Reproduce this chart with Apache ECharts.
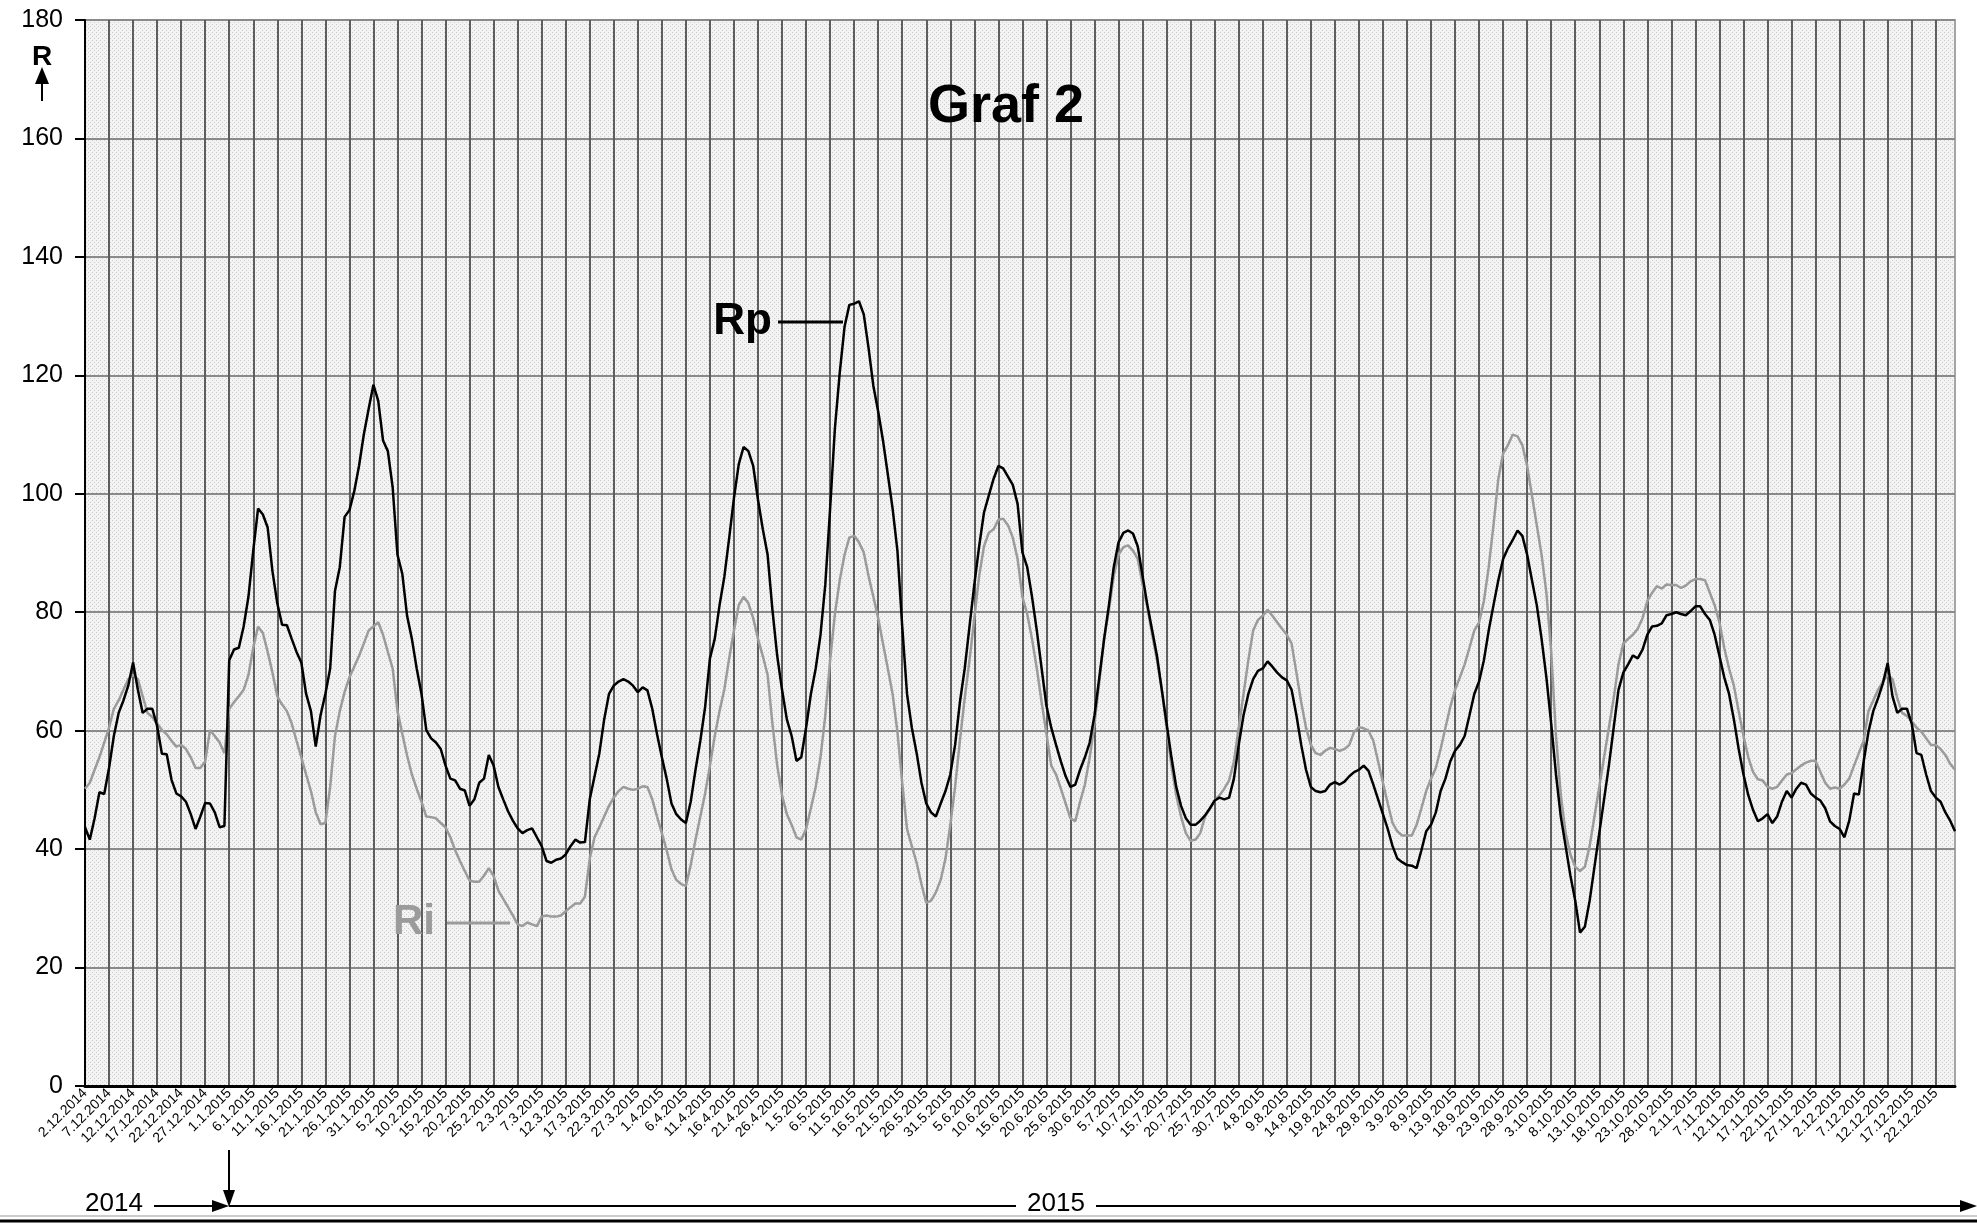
<!DOCTYPE html>
<html><head><meta charset="utf-8">
<script src="https://cdn.jsdelivr.net/npm/echarts/dist/echarts.min.js"></script>
<style>html,body{margin:0;padding:0;background:#fff}#c{width:1977px;height:1224px}</style>
</head><body><div id="c"></div>
<script>
// ---- data (daily values, 2.12.2014 - 26.12.2015) ----
const startDay = [2014, 12, 2];
const dayCount = 390;
const yTicks = [0, 20, 40, 60, 80, 100, 120, 140, 160, 180];

const rp2014 = [43.7,41.6,45.2,49.6,49.3,53.7,59.1,63.0,65.1,67.6,71.5,66.9,63.0,63.7,63.7,60.8,56.1,56.0,51.7,49.4,48.9,48.0,45.9,43.4,45.5,47.8,47.7,46.2,43.7,43.9];
const rp2015 = [
71.9,73.7,74.0,77.6,82.6,90.4,97.5,96.5,94.3,86.9,
81.5,77.9,77.8,75.5,73.3,71.5,66.2,63.3,57.3,62.6,
66.2,70.5,83.6,87.6,96.1,97.2,100.4,104.7,110.0,114.3,
118.4,115.7,109.0,107.2,101.1,89.7,86.5,79.4,75.5,70.5,
66.2,60.1,58.7,58.0,56.9,54.1,51.9,51.6,50.2,49.9,
47.3,48.4,51.2,51.9,55.9,54.1,50.5,48.4,46.4,44.8,
43.5,42.7,43.2,43.5,42.0,40.5,38.0,37.7,38.2,38.4,
39.1,40.5,41.6,41.1,41.2,48.4,52.3,56.2,61.9,66.2,
67.6,68.3,68.7,68.3,67.6,66.5,67.3,66.8,63.7,59.4,
55.5,51.9,47.7,45.9,45.0,44.4,48.0,53.4,58.3,64.0,
72.2,75.5,81.2,86.0,92.5,99.3,105.0,107.9,107.2,104.7,
99.0,94.0,89.7,80.4,72.6,66.9,61.9,59.1,54.9,55.5,
60.5,66.2,70.5,76.2,84.7,97.5,111.1,120.4,128.2,131.9,
132.1,132.5,130.3,124.6,118.2,113.9,109.0,103.3,97.5,90.4,
77.6,66.2,60.5,56.2,51.2,47.7,46.2,45.5,47.7,49.8,
52.6,57.6,64.8,70.5,77.6,84.7,91.1,96.8,99.7,102.5,
104.7,104.3,102.9,101.5,98.3,90.1,87.6,82.6,76.9,70.5,
64.2,60.5,57.6,54.8,52.3,50.5,50.9,53.4,55.5,58.0,
62.6,69.0,75.5,81.2,87.6,91.8,93.4,93.8,93.3,91.1,
86.1,81.2,76.9,72.6,66.9,61.2,55.5,50.5,47.3,45.2,
44.1,44.1,44.8,45.7,46.9,48.2,48.7,48.4,48.7,51.9,
57.6,62.6,66.2,68.7,70.1,70.5,71.7,70.8,69.8,69.0,
68.5,66.9,62.6,57.6,53.4,50.5,49.8,49.6,49.8,50.9,
51.3,50.9,51.4,52.3,53.0,53.4,54.1,53.2,50.9,48.4,
45.9,43.4,40.5,38.4,37.8,37.3,37.2,36.8,39.8,43.0,
44.1,46.2,49.8,51.9,54.8,56.6,57.6,59.1,62.6,66.2,
68.3,71.9,76.9,81.2,85.4,89.0,90.8,92.2,93.8,92.9,
89.7,85.4,81.2,75.5,69.0,61.2,52.6,45.5,40.5,35.5,
31.3,25.9,26.9,31.3,37.0,42.7,48.4,54.1,60.5,66.9,
69.8,71.2,72.7,72.2,73.7,76.2,77.6,77.7,78.1,79.5,
79.7,80.0,79.7,79.5,80.2,81.0,81.0,79.7,78.7,76.2,
72.6,69.0,66.2,61.9,56.9,52.6,49.1,46.6,44.7,45.2,
45.9,44.4,45.5,48.0,49.8,48.7,50.2,51.2,50.9,49.4,
48.7,48.2,46.9,44.7,43.9,43.4,42.0,44.8,49.4,49.2,
54.8,59.8,63.3,65.5,68.0,71.4,65.8,63.0,63.7,63.7,
61.2,56.2,55.9,52.6,49.8,48.7,48.0,46.2,44.8,43.0];

const ri2014 = [50.2,51.2,53.4,55.5,58.0,60.5,63.7,65.1,66.9,68.7,69.4,68.7,65.8,63.0,62.3,61.2,60.1,59.4,58.3,57.3,57.6,56.9,55.5,53.7,53.7,54.8,60.1,59.1,58.0,56.2];
const ri2015 = [
63.7,64.8,65.8,66.9,69.4,74.0,77.6,76.5,73.3,69.8,
65.8,64.4,63.3,61.2,58.3,55.5,52.6,49.8,46.2,44.2,
44.4,50.5,59.1,63.3,66.5,69.0,70.8,72.6,74.7,76.9,
77.6,78.3,76.2,73.3,70.5,63.3,59.5,55.8,52.6,50.2,
48.0,45.5,45.4,45.2,44.4,43.7,42.0,39.8,38.0,36.3,
34.7,34.5,34.5,35.5,36.8,35.5,33.0,31.6,30.2,28.8,
27.3,27.0,27.6,27.3,27.0,28.6,28.8,28.6,28.6,28.8,
29.5,30.2,30.8,30.8,32.0,38.4,42.0,43.7,45.5,47.3,
48.7,49.8,50.5,50.2,50.0,50.2,50.6,50.5,48.4,45.5,
42.7,39.8,36.6,34.8,34.1,33.8,37.3,41.6,45.5,49.4,
54.1,59.1,63.3,67.0,72.2,76.9,81.2,82.6,81.5,79.0,
75.5,72.6,69.4,61.2,54.1,49.1,45.9,44.1,42.0,41.6,
43.4,46.9,50.5,55.5,62.6,71.9,79.7,85.4,89.7,92.6,
92.9,91.8,90.1,86.1,82.6,79.0,74.7,70.5,66.2,59.8,
51.2,43.4,40.5,37.7,34.1,30.9,31.3,32.7,34.8,38.4,
44.1,50.5,58.3,65.5,71.9,79.0,86.1,91.1,93.4,94.0,
95.6,95.8,94.7,92.6,89.0,82.6,79.7,75.5,70.5,64.8,
59.5,54.1,52.6,50.2,47.7,45.2,44.7,48.0,50.9,55.5,
61.2,68.3,75.5,80.4,86.1,89.7,91.0,91.3,90.4,89.0,
84.7,80.8,76.2,71.9,66.9,60.5,54.1,49.1,45.5,42.7,
41.4,41.6,42.7,45.5,46.8,48.2,49.1,50.2,51.6,54.8,
60.5,66.2,71.9,76.9,78.7,79.4,80.4,79.4,78.3,77.2,
76.2,74.7,69.8,64.8,60.5,57.6,56.2,55.9,56.6,57.1,
56.9,56.6,56.9,57.6,59.8,60.6,60.4,60.0,58.3,54.8,
51.2,47.7,44.4,43.0,42.3,42.3,42.3,44.1,46.9,49.8,
51.9,53.7,56.9,60.5,64.0,66.9,69.0,71.2,74.0,76.9,
78.3,81.9,87.6,94.7,102.5,106.8,108.2,110.0,109.7,108.2,
104.7,99.7,94.7,89.7,83.3,73.3,59.1,49.1,42.7,39.1,
37.0,36.3,37.0,40.5,45.5,50.5,55.5,60.5,65.5,71.2,
74.7,75.5,76.2,77.2,79.0,81.9,83.3,84.4,84.0,84.7,
84.6,84.6,84.1,84.5,85.2,85.6,85.6,85.4,83.3,81.2,
78.3,74.0,70.5,67.6,63.3,59.1,55.5,53.0,51.8,51.6,
50.5,50.2,50.5,51.6,52.6,52.8,53.5,54.1,54.6,54.9,
54.9,53.0,51.2,50.2,50.4,50.2,50.9,51.9,54.1,56.2,
58.3,63.3,65.1,66.9,68.3,69.4,68.7,65.5,63.0,62.5,
61.6,60.5,59.8,58.7,57.6,57.6,56.9,55.9,54.4,53.4];

// ---- build ----
const categories = [];
for (let i = 0; i < dayCount; i++) {
  const d = new Date(startDay[0], startDay[1] - 1, startDay[2] + i);
  categories.push(d.getDate() + '.' + (d.getMonth() + 1) + '.' + d.getFullYear());
}
const rp = rp2014.concat(rp2015);
const ri = ri2014.concat(ri2015);

const pc = document.createElement('canvas');
pc.width = 4; pc.height = 4;
const g2 = pc.getContext('2d');
g2.fillStyle = '#f3f3f3'; g2.fillRect(0, 0, 4, 4);
g2.fillStyle = '#cdcdcd'; g2.fillRect(0, 0, 1, 1); g2.fillRect(2, 2, 1, 1);

const FONT = '"Liberation Sans", Arial, sans-serif';
const GRAY = '#9b9b9b';
const chart = echarts.init(document.getElementById('c'), null, {renderer: 'canvas'});
const option = {
  animation: false,
  backgroundColor: '#ffffff',
  grid: {left: 85, right: 22, top: 20, bottom: 138, show: true,
         backgroundColor: {image: pc, repeat: 'repeat'}, borderColor: '#a5a5a5', borderWidth: 2},
  xAxis: {
    type: 'category', data: categories, boundaryGap: false,
    axisLine: {lineStyle: {color: '#000', width: 3}},
    axisTick: {show: false},
    axisLabel: {interval: 4, rotate: 45, fontSize: 14, fontFamily: FONT, color: '#000', margin: 5},
    splitLine: {show: true, interval: 4, lineStyle: {color: '#5e5e5e', width: 2}}
  },
  yAxis: {
    type: 'value', min: yTicks[0], max: yTicks[yTicks.length - 1], interval: 20,
    axisLine: {show: true, lineStyle: {color: '#000', width: 2}},
    axisTick: {show: true, length: 10, lineStyle: {color: '#000', width: 2}},
    axisLabel: {fontSize: 25, fontFamily: FONT, color: '#000', margin: 22},
    splitLine: {show: true, lineStyle: {color: '#8a8a8a', width: 2}}
  },
  series: [
    {name: 'Ri', type: 'line', data: ri, symbol: 'none', z: 3,
     lineStyle: {color: GRAY, width: 2.5}},
    {name: 'Rp', type: 'line', data: rp, symbol: 'none', z: 4,
     lineStyle: {color: '#000', width: 2.5}}
  ],
  graphic: [
    {type: 'text', x: 42, y: 57, style: {text: 'R', font: 'bold 28px ' + FONT, fill: '#000', textAlign: 'center', textVerticalAlign: 'middle'}},
    {type: 'polygon', shape: {points: [[42, 67], [35, 84], [49, 84]]}, style: {fill: '#000'}},
    {type: 'line', shape: {x1: 42, y1: 80, x2: 42, y2: 101}, style: {stroke: '#000', lineWidth: 2}},
    {type: 'text', x: 1006, y: 107, z: 10, style: {text: 'Graf 2', font: 'bold 54px ' + FONT, fill: '#000', textAlign: 'center', textVerticalAlign: 'middle'}},
    {type: 'text', x: 772, y: 322, z: 10, style: {text: 'Rp', font: 'bold 44px ' + FONT, fill: '#000', textAlign: 'right', textVerticalAlign: 'middle'}},
    {type: 'line', z: 10, shape: {x1: 778, y1: 322, x2: 843, y2: 322}, style: {stroke: '#000', lineWidth: 3}},
    {type: 'text', x: 435, y: 922, z: 10, style: {text: 'Ri', font: 'bold 42px ' + FONT, fill: GRAY, textAlign: 'right', textVerticalAlign: 'middle'}},
    {type: 'line', z: 10, shape: {x1: 447, y1: 923, x2: 510, y2: 923}, style: {stroke: GRAY, lineWidth: 3}},
    {type: 'text', x: 85, y: 1204, style: {text: '2014', font: '26px ' + FONT, fill: '#000', textAlign: 'left', textVerticalAlign: 'middle'}},
    {type: 'line', shape: {x1: 154, y1: 1206, x2: 216, y2: 1206}, style: {stroke: '#000', lineWidth: 2}},
    {type: 'polygon', shape: {points: [[229, 1206], [212, 1200], [212, 1212]]}, style: {fill: '#000'}},
    {type: 'line', shape: {x1: 229, y1: 1150, x2: 229, y2: 1194}, style: {stroke: '#000', lineWidth: 2}},
    {type: 'polygon', shape: {points: [[229, 1207], [223, 1190], [235, 1190]]}, style: {fill: '#000'}},
    {type: 'line', shape: {x1: 229, y1: 1206, x2: 1016, y2: 1206}, style: {stroke: '#000', lineWidth: 2}},
    {type: 'text', x: 1056, y: 1204, style: {text: '2015', font: '26px ' + FONT, fill: '#000', textAlign: 'center', textVerticalAlign: 'middle'}},
    {type: 'line', shape: {x1: 1096, y1: 1206, x2: 1962, y2: 1206}, style: {stroke: '#000', lineWidth: 2}},
    {type: 'polygon', shape: {points: [[1977, 1206], [1960, 1200], [1960, 1212]]}, style: {fill: '#000'}},
    {type: 'line', shape: {x1: 0, y1: 1216, x2: 1977, y2: 1216}, style: {stroke: '#999', lineWidth: 1}},
    {type: 'line', shape: {x1: 0, y1: 1221, x2: 1977, y2: 1221}, style: {stroke: '#000', lineWidth: 3}}
  ]
};
chart.setOption(option);
</script></body></html>
